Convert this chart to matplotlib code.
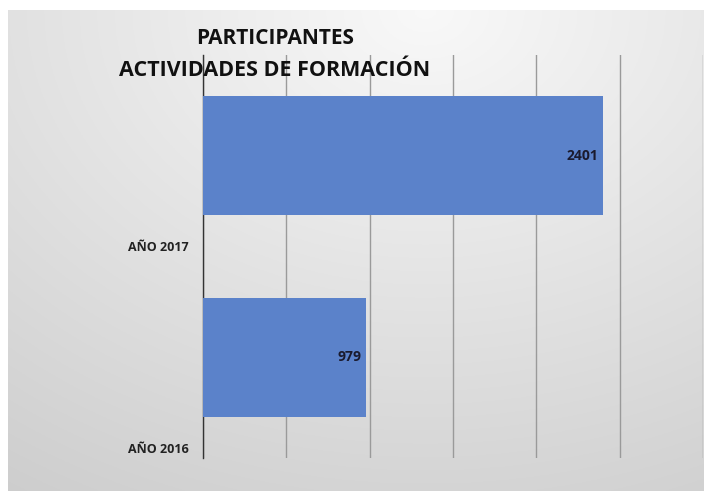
import numpy as np
import matplotlib
matplotlib.use("Agg")
import matplotlib.pyplot as plt

categories = ["AÑO 2016", "AÑO 2017"]
values = [979, 2401]
title_lines = ["PARTICIPANTES", "ACTIVIDADES DE FORMACIÓN"]
x_ticks = [0, 500, 1000, 1500, 2000, 2500, 3000]

W, H = 704, 491
fig = plt.figure(figsize=(W / 100, H / 100), dpi=100)
fig.patch.set_facecolor("white")

# background gradient panel
bg = fig.add_axes([8 / W, 0, 1 - 8 / W, 1 - 10 / H])
yy, xx = np.mgrid[0:1:300j, 0:1:400j]
d = np.sqrt(((xx - 0.6) / 1.1) ** 2 + ((yy - 0.0) / 1.2) ** 2)
g = 0.975 - 0.17 * np.clip(d, 0, 1.2)
bg.imshow(np.dstack([g, g, g]), extent=[0, 1, 0, 1], aspect="auto", origin="upper")
bg.set_axis_off()
bg.set_zorder(0)

ax = fig.add_axes([203 / W, 1 - 458 / H, 500 / W, 403 / H])
ax.set_zorder(1)
ax.patch.set_alpha(0)

pos = np.arange(len(categories))
ax.barh(pos, values, height=0.59, color="#5B82CA", zorder=3)
for p, v in zip(pos, values):
    ax.text(v - 30, p, str(v), ha="right", va="center", fontsize=10,
            fontweight="bold", color="#1a1a2e", family="Open Sans", zorder=4)

ax.set_xlim(0, 3000)
ax.set_ylim(-0.5, 1.5)
ax.set_xticks(x_ticks)
ax.xaxis.grid(True, color="#9a9a9a", linewidth=1)
ax.set_axisbelow(True)
ax.tick_params(axis="x", length=0, labelbottom=False)
ax.set_yticks([p - 0.45 for p in pos])
ax.set_yticklabels(categories, fontsize=9, fontweight="bold", family="Open Sans", color="#222222")
ax.tick_params(axis="y", length=0, pad=10)
for s in ["top", "right", "bottom"]:
    ax.spines[s].set_visible(False)
ax.spines["left"].set_color("#333333")
ax.spines["left"].set_linewidth(1)

fig.text(275 / W, 1 - 38 / H, title_lines[0], ha="center", va="center",
         fontsize=15, fontweight="bold", family="Open Sans", color="#111111", zorder=5)
fig.text(275 / W, 1 - 70 / H, title_lines[1], ha="center", va="center",
         fontsize=15.5, fontweight="bold", family="Open Sans", color="#111111", zorder=5)

fig.savefig("out.png", dpi=100)
